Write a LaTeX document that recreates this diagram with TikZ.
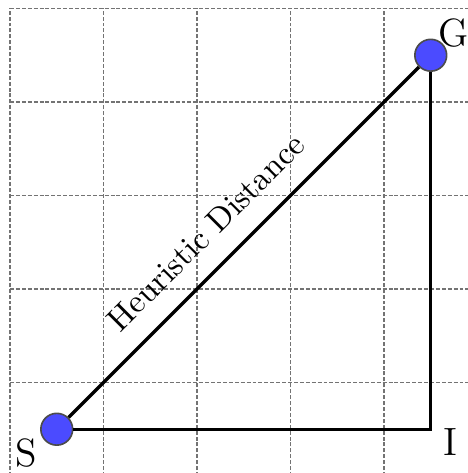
\documentclass[tikz,border=0pt]{standalone}
\usepackage{xcolor}
\usepackage{tikz}
\usetikzlibrary{positioning}
\definecolor{nodeblue}{HTML}{4B4BFF}
\tikzset{
  gridline/.style={draw=black!55, line width=0.4pt, dash pattern=on 1.2pt off 0.6pt},
  waypoint/.style={draw=black!70, circle, fill=nodeblue, minimum size=3.4mm, inner sep=0pt, line width=0.5pt},
  pathline/.style={draw, line width=1pt},
  ptlabel/.style={font=\large, inner sep=0pt}
}
\begin{document}
\begin{tikzpicture}
  \useasboundingbox (-0.107,0.032) rectangle (4.898,5.091);
  \draw[gridline] (0,0) grid (5,5);

  \node[waypoint] (S) at (0.5,0.5) {};
  \node[waypoint] (G) at (4.5,4.5) {};
  \coordinate (corner) at (4.5,0.5);

  \draw[pathline] (S) -- (G) node[pos=0.46, sloped, above=3pt] (hdist) {Heuristic Distance};
  \draw[pathline] (S) -- (corner) -- (G);

  \node[ptlabel] (lblS) at ([xshift=-3.3mm, yshift=-2.5mm]S.center) {S};
  \node[ptlabel] (lblG) at ([xshift=2.5mm, yshift=2.4mm]G.center) {G};
  \node[ptlabel] (lblI) at ([xshift=2.1mm, yshift=-1.4mm]corner) {I};
\end{tikzpicture}
\end{document}
